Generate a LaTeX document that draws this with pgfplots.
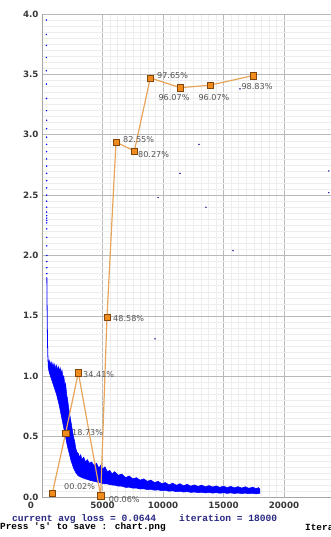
\documentclass[border=0pt]{standalone}
\usepackage{pgfplots}
\pgfplotsset{compat=1.18}
\usepackage{fontspec}
\setmainfont{DejaVu Sans}
\newfontfamily\monofont{Liberation Mono}
\definecolor{orangeline}{RGB}{232,165,90}
\definecolor{orangefill}{RGB}{240,140,30}
\definecolor{orangedraw}{RGB}{130,70,10}
\definecolor{navytext}{RGB}{40,40,130}
\definecolor{labelgray}{RGB}{85,85,85}
\begin{document}
\begin{tikzpicture}[x=1pt,y=1pt]
\path[use as bounding box] (0,0) rectangle (331,537);
\begin{axis}[
  at={(42pt,40pt)}, anchor=south west, scale only axis,
  width=289pt, height=483pt,
  xmin=0, xmax=23884, ymin=0, ymax=4,
  axis x line*=bottom, axis y line*=left,
  axis line style={draw=gray!70, line width=0.6pt},
  xtick={5000,10000,15000,20000},
  ytick={0,0.5,1,1.5,2,2.5,3,3.5,4},
  minor x tick num=7, minor y tick num=9,
  grid=both,
  major grid style={draw=gray!55, line width=0.5pt},
  minor grid style={draw=gray!14, line width=0.4pt},
  major tick length=0pt, minor tick length=0pt,
  tick label style={font=\fontsize{8.7}{10}\selectfont\bfseries, text=black!78},
  /pgf/number format/assume math mode=true,
  yticklabel style={/pgf/number format/.cd, fixed, fixed zerofill, precision=1, /tikz/.cd},
  xticklabel style={/pgf/number format/1000 sep={}, yshift=-2pt},
  scaled x ticks=false,
  extra x ticks={0},
  extra x tick style={xticklabel style={xshift=-11pt}, grid=none},
  clip=false,
]
% early high-loss points
\addplot[only marks, mark=*, mark size=0.5pt, blue] coordinates {
(360,3.95) (362,3.83) (364,3.74) (366,3.64) (368,3.53) (370,3.42) (372,3.30)
(374,3.20) (375,3.12) (376,3.05) (377,2.98) (378,2.92) (379,2.86) (380,2.80)
(381,2.74) (382,2.68) (383,2.62) (384,2.56) (385,2.50) (386,2.45) (387,2.40)
(388,2.36) (389,2.33) (390,2.31) (391,2.29) (392,2.27) (393,2.22) (394,2.15)
(395,2.08) (396,2.00) (397,1.95) (398,1.90) (399,1.85)
};
% stray points
\addplot[only marks, mark=*, mark size=0.45pt, blue!55!black] coordinates {
(12975,2.92) (11400,2.68) (9590,2.48) (13550,2.40) (15785,2.04) (9340,1.31)
(16360,3.38) (23700,2.70) (23700,2.52)
};
% early descent of the loss
\addplot[blue, line width=0.8pt] coordinates {
(400,1.82) (420,1.60) (440,1.40) (460,1.26) (480,1.18) (500,1.12)
};
% loss band (upper edge forward, lower edge back)
\addplot[draw=blue, fill=blue, line width=0.5pt] coordinates {
(500,1.14) (550,1.10) (600,1.13) (700,1.09) (750,1.12) (850,1.08) (900,1.11)
(1000,1.07) (1050,1.10) (1150,1.06) (1200,1.09) (1300,1.05) (1350,1.08)
(1450,1.04) (1500,1.07) (1600,1.02) (1650,1.05) (1750,0.98) (1800,1.00)
(1900,0.92) (1950,0.94) (2050,0.84) (2100,0.82) (2200,0.74) (2300,0.68)
(2400,0.62) (2500,0.56) (2600,0.50) (2700,0.46) (2800,0.40) (2900,0.37)
(3000,0.36) (3100,0.33) (3200,0.35) (3300,0.31) (3450,0.33) (3600,0.29)
(3750,0.31) (3900,0.28) (4100,0.29) (4300,0.26) (4500,0.28) (4700,0.24)
(4900,0.27) (5000,0.23) (5200,0.25) (5400,0.21) (5600,0.22) (5800,0.19)
(6000,0.21) (6300,0.18) (6600,0.19) (6900,0.16) (7200,0.175) (7500,0.15)
(7800,0.16) (8100,0.14) (8400,0.15) (8700,0.13) (9000,0.14) (9300,0.12)
(9600,0.13) (9900,0.11) (10200,0.12) (10500,0.10) (10800,0.115) (11100,0.097)
(11400,0.11) (11700,0.093) (12000,0.105) (12300,0.09) (12600,0.10) (12900,0.088)
(13200,0.098) (13500,0.085) (13800,0.095) (14100,0.083) (14400,0.092) (14700,0.08)
(15000,0.09) (15300,0.078) (15600,0.088) (15900,0.076) (16200,0.086) (16500,0.074)
(16800,0.085) (17100,0.072) (17400,0.082) (17700,0.07) (17900,0.078) (18000,0.065)
(18000,0.03) (17700,0.026) (17400,0.031) (17100,0.027) (16800,0.032) (16500,0.028)
(16200,0.033) (15900,0.029) (15600,0.034) (15300,0.030) (15000,0.035) (14700,0.031)
(14400,0.036) (14100,0.032) (13800,0.037) (13500,0.034) (13200,0.039) (12900,0.036)
(12600,0.041) (12300,0.038) (12000,0.044) (11700,0.041) (11400,0.047) (11100,0.044)
(10800,0.051) (10500,0.048) (10200,0.055) (9900,0.052) (9600,0.059) (9300,0.056)
(9000,0.063) (8700,0.061) (8400,0.068) (8100,0.066) (7800,0.074) (7500,0.073)
(7200,0.081) (6900,0.080) (6600,0.089) (6300,0.090) (6000,0.098) (5700,0.10)
(5400,0.108) (5100,0.11) (4800,0.118) (4500,0.125) (4200,0.132) (3900,0.14)
(3600,0.15) (3300,0.16) (3000,0.175) (2800,0.20) (2600,0.24) (2400,0.30)
(2300,0.34) (2200,0.38) (2100,0.42) (2000,0.47) (1900,0.52) (1800,0.57)
(1700,0.62) (1600,0.67) (1500,0.72) (1400,0.77) (1300,0.81) (1200,0.85)
(1100,0.88) (1000,0.91) (900,0.94) (800,0.97) (700,1.00) (600,1.03) (500,1.08)
} --cycle;
% mAP curve
\addplot[orangeline, line width=1.2pt, mark=square*, mark size=3.2pt,
  mark options={fill=orangefill, draw=orangedraw, line width=0.5pt}] coordinates {
(850,0.03) (1955,0.53) (3000,1.03) (4850,0.01) (5370,1.49) (6115,2.94)
(7630,2.865) (8950,3.47) (11430,3.39) (13880,3.41) (17440,3.49)
};
\begin{scope}[every node/.style={font=\fontsize{8.1}{9}\selectfont, text=labelgray, inner sep=0pt}]
\node[anchor=west] at (axis cs:1818,0.083) {00.02\%};
\node[anchor=west] at (axis cs:2480,0.53) {18.73\%};
\node[anchor=west] at (axis cs:3390,1.01) {34.41\%};
\node[anchor=west] at (axis cs:5500,-0.017) {00.06\%};
\node[anchor=west] at (axis cs:5870,1.48) {48.58\%};
\node[anchor=west] at (axis cs:6690,2.96) {82.55\%};
\node[anchor=west] at (axis cs:7930,2.84) {80.27\%};
\node[anchor=west] at (axis cs:9500,3.49) {97.65\%};
\node at (axis cs:10910,3.31) {96.07\%};
\node at (axis cs:14210,3.31) {96.07\%};
\node at (axis cs:17770,3.40) {98.83\%};
\end{scope}
\end{axis}
\node[anchor=west, inner sep=0pt, text=navytext, font=\monofont\bfseries\fontsize{9.6}{11}\selectfont] at (12,18) {current avg loss = 0.0644\hspace{2.4em}iteration = 18000};
\node[anchor=west, inner sep=0pt, font=\monofont\bfseries\fontsize{9.4}{11}\selectfont] at (0,10) {Press \textquotesingle s\textquotesingle\ to save : chart.png};
\node[anchor=west, inner sep=0pt, font=\monofont\bfseries\fontsize{9.4}{11}\selectfont] at (305,10) {Iteration};
\end{tikzpicture}
\end{document}
